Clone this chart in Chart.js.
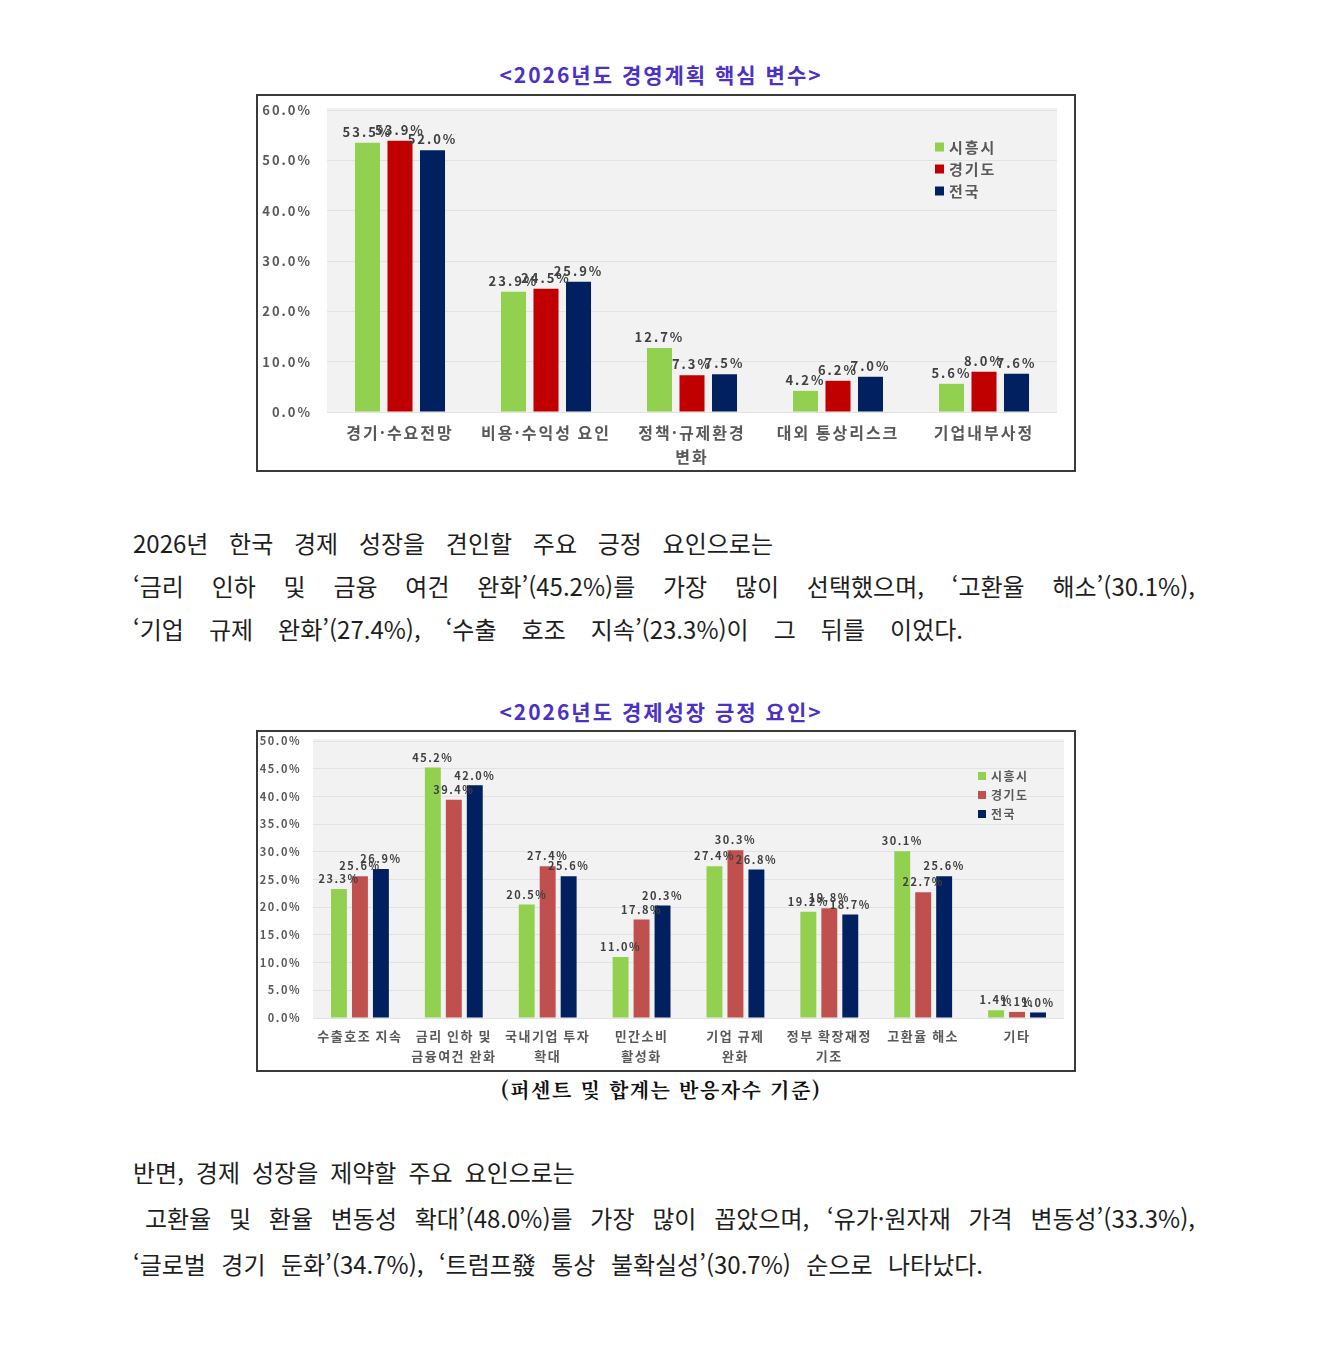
<!DOCTYPE html>
<html lang="ko">
<head>
<meta charset="utf-8">
<script src="https://cdn.jsdelivr.net/npm/chart.js@4.4.1/dist/chart.umd.min.js"></script>
<style>
  html, body { margin: 0; padding: 0; background: #fff; }
  body { width: 1322px; height: 1360px; position: relative; overflow: hidden;
         font-family: "Noto Sans CJK KR", "Noto Sans", sans-serif; }
  .title { position: absolute; left: 0; width: 1322px; text-align: center; color: #4b31c4;
           font-weight: 700; font-size: 21px; letter-spacing: 2px; line-height: 28px; }
  .box { position: absolute; left: 256px; width: 816px; border: 2px solid #3a3a3a; background: #fff; }
  .box canvas { display: block; }
  .note { position: absolute; left: 0; width: 1322px; text-align: center; color: #111;
          font-family: "Noto Serif CJK KR", "Noto Sans CJK KR", serif;
          font-weight: 700; font-size: 20px; letter-spacing: 1.5px; line-height: 28px; }
  .jl { position: absolute; display: flex; justify-content: space-between; white-space: nowrap;
        font-size: 24px; color: #1e1e1e; line-height: 30px; }
</style>
</head>
<body>

<div class="title" style="top:60px">&lt;2026년도 경영계획 핵심 변수&gt;</div>
<div class="box" style="top:94px; height:374px"><canvas id="planChart"></canvas></div>

<div class="jl" style="left:133px; top:528px; width:640px">2026년 한국 경제 성장을 견인할 주요 긍정 요인으로는</div>
<div class="jl" style="left:133px; top:571px; width:1062px">‘금리 인하 및 금융 여건 완화’(45.2%)를 가장 많이 선택했으며, ‘고환율 해소’(30.1%),</div>
<div class="jl" style="left:133px; top:614px; width:830px">‘기업 규제 완화’(27.4%), ‘수출 호조 지속’(23.3%)이 그 뒤를 이었다.</div>

<div class="title" style="top:697px">&lt;2026년도 경제성장 긍정 요인&gt;</div>
<div class="box" style="top:730px; height:338px"><canvas id="growthChart"></canvas></div>
<div class="note" style="top:1076px">(퍼센트 및 합계는 반응자수 기준)</div>

<div class="jl" style="left:133px; top:1157px; width:442px">반면, 경제 성장을 제약할 주요 요인으로는</div>
<div class="jl" style="left:145px; top:1203px; width:1050px">고환율 및 환율 변동성 확대’(48.0%)를 가장 많이 꼽았으며, ‘유가·원자재 가격 변동성’(33.3%),</div>
<div class="jl" style="left:133px; top:1249px; width:850px">‘글로벌 경기 둔화’(34.7%), ‘트럼프發 통상 불확실성’(30.7%) 순으로 나타났다.</div>

<script>
const seriesNames = ['시흥시', '경기도', '전국'];

const planCategories = ['경기·수요전망', '비용·수익성 요인', ['정책·규제환경', '변화'], '대외 통상리스크', '기업내부사정'];
const planSiheung = [53.5, 23.9, 12.7, 4.2, 5.6];
const planGyeonggi = [53.9, 24.5, 7.3, 6.2, 8.0];
const planNational = [52.0, 25.9, 7.5, 7.0, 7.6];
const planColors = ['#92d050', '#c00000', '#002060'];
const planAxis = { max: 60, step: 10 };

const growthCategories = ['수출호조 지속', ['금리 인하 및', '금융여건 완화'], ['국내기업 투자', '확대'], ['민간소비', '활성화'],
  ['기업 규제', '완화'], ['정부 확장재정', '기조'], '고환율 해소', '기타'];
const growthSiheung = [23.3, 45.2, 20.5, 11.0, 27.4, 19.2, 30.1, 1.4];
const growthGyeonggi = [25.6, 39.4, 27.4, 17.8, 30.3, 19.8, 22.7, 1.1];
const growthNational = [26.9, 42.0, 25.6, 20.3, 26.8, 18.7, 25.6, 1.0];
const growthColors = ['#92d050', '#c0504d', '#002060'];
const growthAxis = { max: 50, step: 5 };

// justified text lines: one span per word
document.querySelectorAll('.jl').forEach(el => {
  const words = el.textContent.split(' ');
  el.textContent = '';
  words.forEach(w => {
    const s = document.createElement('span');
    s.textContent = w;
    el.appendChild(s);
  });
});

Chart.defaults.font.family = '"Noto Sans CJK KR", "Noto Sans", sans-serif';
Chart.defaults.color = '#595959';

// plot background + wide letter spacing like the stretched original
const plotLook = {
  id: 'plotLook',
  beforeLayout(chart, args, opts) { chart.ctx.letterSpacing = opts.spacing + 'px'; },
  beforeDraw(chart, args, opts) {
    const { ctx, chartArea: a } = chart;
    ctx.letterSpacing = opts.spacing + 'px';
    ctx.save();
    ctx.fillStyle = '#f2f2f2';
    ctx.fillRect(a.left, a.top - 2, a.right - a.left, a.bottom - a.top + 3);
    ctx.restore();
  }
};

// value labels over each bar
const barLabels = {
  id: 'barLabels',
  afterDatasetsDraw(chart, args, opts) {
    const ctx = chart.ctx;
    ctx.save();
    ctx.font = 'bold ' + opts.size + 'px "Noto Sans CJK KR", sans-serif';
    ctx.fillStyle = '#404040';
    ctx.textAlign = 'center';
    ctx.textBaseline = 'middle';
    chart.data.datasets.forEach((ds, i) => {
      chart.getDatasetMeta(i).data.forEach((bar, j) => {
        ctx.fillText(ds.data[j].toFixed(1) + '%', bar.x, bar.y - opts.gap);
      });
    });
    ctx.restore();
  }
};

// legend inside the plot, top right
const boxLegend = {
  id: 'boxLegend',
  afterDraw(chart, args, opts) {
    const { ctx, chartArea: a } = chart;
    ctx.save();
    ctx.font = 'bold ' + opts.size + 'px "Noto Sans CJK KR", sans-serif';
    ctx.textAlign = 'left';
    ctx.textBaseline = 'middle';
    chart.data.datasets.forEach((ds, i) => {
      const x = a.right - opts.fromRight;
      const y = a.top + opts.fromTop + i * opts.step;
      ctx.fillStyle = ds.backgroundColor;
      ctx.fillRect(x, y - opts.box / 2, opts.box, opts.box);
      ctx.fillStyle = '#595959';
      ctx.fillText(ds.label, x + opts.box + 5, y);
    });
    ctx.restore();
  }
};

function makeChart(id, w, h, s) {
  const cv = document.getElementById(id);
  cv.style.width = w + 'px';
  cv.style.height = h + 'px';
  cv.width = w;
  cv.height = h;
  return new Chart(cv, {
    type: 'bar',
    data: {
      labels: s.categories,
      datasets: s.values.map((v, i) => ({
        label: seriesNames[i],
        data: v,
        backgroundColor: s.colors[i],
        categoryPercentage: s.catPct,
        barPercentage: s.barPct
      }))
    },
    options: {
      responsive: false,
      animation: false,
      layout: { padding: { top: s.pad.top, right: s.pad.right, left: 0, bottom: 0 } },
      scales: {
        x: {
          grid: { display: false },
          border: { display: false },
          ticks: { font: { size: s.xFont, weight: 'bold', lineHeight: s.xLine }, padding: s.xPad,
                   maxRotation: 0, autoSkip: false },
          afterFit(axis) {
            axis.height = s.pad.bottom;
            axis.paddingTop = 0;
            axis.paddingBottom = 0;
          }
        },
        y: {
          min: 0, max: s.axis.max,
          grid: { color: '#e2e2e2', drawTicks: false },
          border: { display: false },
          ticks: { stepSize: s.axis.step, font: { size: s.yFont, weight: 'bold' }, padding: s.yPad,
                   callback: v => v.toFixed(1) + '%' },
          afterFit(axis) {
            axis.width = s.pad.left;
            axis.paddingTop = 0;
            axis.paddingBottom = 0;
          }
        }
      },
      plugins: {
        legend: { display: false },
        tooltip: { enabled: false },
        plotLook: { spacing: s.spacing },
        barLabels: { size: s.labelFont, gap: s.labelGap },
        boxLegend: s.legend
      }
    },
    plugins: [plotLook, barLabels, boxLegend]
  });
}

makeChart('planChart', 816, 374, {
  categories: planCategories,
  values: [planSiheung, planGyeonggi, planNational],
  colors: planColors,
  axis: planAxis,
  catPct: 0.668, barPct: 0.77,
  pad: { top: 14, right: 17, left: 69, bottom: 58 },
  xFont: 16, xLine: 1.5, xPad: 1,
  yFont: 13, yPad: 15,
  spacing: 2,
  labelFont: 13, labelGap: 11,
  legend: { size: 15, box: 9, fromRight: 122, fromTop: 37, step: 22 }
});

makeChart('growthChart', 816, 338, {
  categories: growthCategories,
  values: [growthSiheung, growthGyeonggi, growthNational],
  colors: growthColors,
  axis: growthAxis,
  catPct: 0.67, barPct: 0.76,
  pad: { top: 9, right: 10, left: 55, bottom: 52 },
  xFont: 13, xLine: 1.55, xPad: 0,
  yFont: 11, yPad: 12,
  spacing: 1.5,
  labelFont: 11, labelGap: 10,
  legend: { size: 12, box: 8, fromRight: 86, fromTop: 35, step: 19 }
});
</script>
</body>
</html>
